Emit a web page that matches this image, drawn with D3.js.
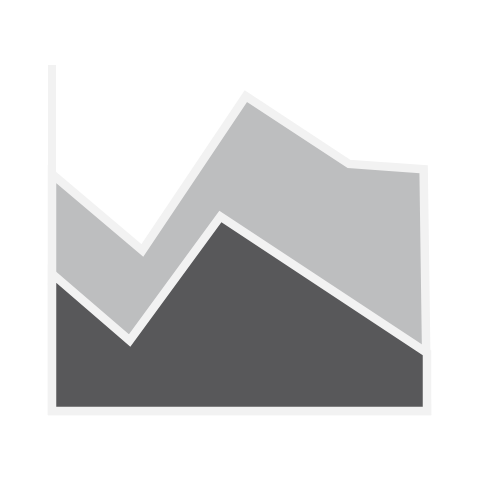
<!DOCTYPE html>
<html>
<head>
<meta charset="utf-8">
<style>
	html, body { margin: 0; padding: 0; background: #ffffff; }
	svg { display: block; }
</style>
<script src="https://cdn.jsdelivr.net/npm/d3@7"></script>
</head>
<body>
<div id="chart"></div>
<script>
// values, both axes on a 0-100 scale
var backX = [0, 24.1, 51.7, 79.2, 99.1, 100];
var backY = [68.5, 46.4, 91.0, 71.4, 69.9, 0];
var frontX = [0, 20.7, 44.9, 100, 100];
var frontY = [39.7, 20.4, 56.2, 16.8, 0];
var axisX = [0, 0];
var axisY = [100, 0];

var width = 480, height = 480;
var frameColor = "#f2f2f2", frameWidth = 8.5;

var x = d3.scaleLinear().domain([0, 100]).range([52, 427]);
var y = d3.scaleLinear().domain([0, 100]).range([411, 65]);

function toPoints(xs, ys) {
	return xs.map(function (d, i) {
		return { x: d, y: ys[i] };
	});
}

var area = d3.area()
	.x(function (d) { return x(d.x); })
	.y0(y(0))
	.y1(function (d) { return y(d.y); });

var line = d3.line()
	.x(function (d) { return x(d.x); })
	.y(function (d) { return y(d.y); });

var svg = d3.select("#chart").append("svg")
	.attr("width", width)
	.attr("height", height);

svg.append("path")
	.attr("class", "axis")
	.attr("d", line(toPoints(axisX, axisY)))
	.attr("fill", "none")
	.attr("stroke", frameColor)
	.attr("stroke-width", 8);

svg.append("path")
	.attr("class", "back")
	.attr("d", area(toPoints(backX, backY)))
	.attr("fill", "#bdbebf")
	.attr("stroke", frameColor)
	.attr("stroke-width", frameWidth)
	.attr("stroke-linejoin", "miter");

svg.append("path")
	.attr("class", "front")
	.attr("d", area(toPoints(frontX, frontY)))
	.attr("fill", "#58585a")
	.attr("stroke", frameColor)
	.attr("stroke-width", frameWidth)
	.attr("stroke-linejoin", "miter");
</script>
</body>
</html>
